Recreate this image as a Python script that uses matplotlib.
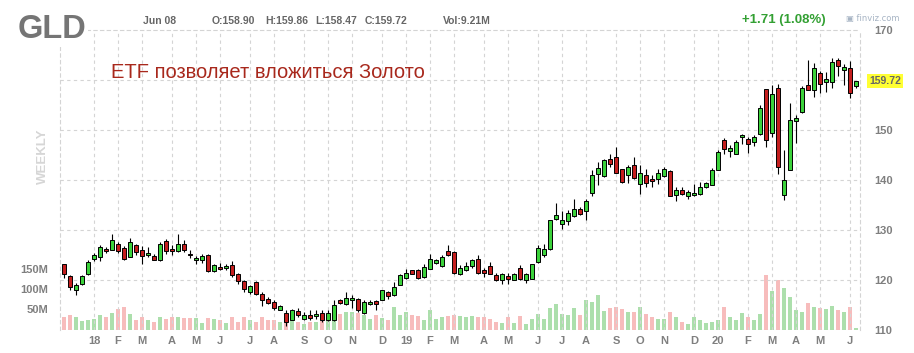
import numpy as np
import pandas as pd
import matplotlib
matplotlib.use("Agg")
import matplotlib.pyplot as plt
import matplotlib.transforms as mtransforms

# ---------------- data ----------------
start_week = "2017-11-27"

opens = [123.2, 120.9, 118.0, 119.2, 121.2, 124.2, 124.7, 126.3, 126.1, 127.3,
         126.5, 124.7, 127.1, 126.1, 125.0, 124.8, 124.1, 127.7, 126.3, 125.9,
         127.3, 125.3, 124.0, 124.1, 125.0, 121.8, 122.6, 122.5, 123.0, 121.2,
         119.8, 117.7, 119.7, 117.3, 116.3, 115.7, 114.1, 113.5, 112.0, 113.9,
         112.3, 113.1, 112.8, 113.5, 112.0, 112.0, 116.0, 115.2, 116.0, 116.2,
         113.5, 115.2, 115.8, 116.1, 117.7, 117.0, 119.1, 120.5, 122.0, 122.0,
         120.7, 122.3, 123.5, 122.8, 125.8, 125.7, 121.2, 122.1, 122.8, 124.3,
         122.1, 122.8, 121.0, 120.1, 120.8, 120.1, 122.5, 120.1, 120.3, 123.7,
         125.0, 126.3, 132.3, 131.2, 131.9, 132.8, 134.3, 133.9, 137.5, 141.2,
         140.8, 144.2, 144.7, 142.1, 141.1, 142.9, 139.3, 140.9, 140.2, 140.3,
         140.8, 141.9, 137.0, 138.1, 136.9, 137.0, 137.2, 138.7, 139.1, 142.1,
         148.1, 145.9, 145.3, 148.7, 148.3, 147.7, 149.2, 158.1, 149.5, 158.3,
         137.1, 142.1, 151.9, 153.7, 159.0, 158.1, 161.5, 159.7, 159.7, 164.0,
         162.1, 162.5, 158.90]

highs = [123.3, 121.0, 119.5, 121.0, 124.0, 125.5, 127.0, 126.7, 129.3, 127.7,
         126.8, 128.5, 127.3, 126.8, 126.7, 125.3, 127.7, 128.3, 127.0, 129.3,
         128.1, 126.0, 124.8, 125.3, 125.2, 123.3, 123.5, 123.3, 123.8, 121.5,
         120.0, 119.1, 119.8, 117.7, 116.7, 116.0, 115.0, 114.0, 114.3, 114.5,
         113.7, 114.1, 114.1, 114.0, 114.0, 116.0, 116.3, 117.7, 117.0, 116.5,
         116.0, 116.0, 116.1, 118.1, 117.9, 119.7, 121.3, 122.3, 122.1, 122.2,
         123.3, 125.3, 124.3, 125.0, 127.1, 125.9, 123.0, 123.7, 124.3, 125.0,
         122.5, 123.7, 121.5, 121.5, 121.5, 121.5, 123.0, 121.5, 123.3, 127.0,
         127.2, 132.0, 135.5, 133.9, 134.0, 136.3, 134.7, 136.3, 142.0, 143.7,
         144.3, 145.3, 146.7, 142.3, 143.0, 144.7, 143.0, 142.3, 141.0, 142.3,
         142.7, 142.1, 138.7, 138.7, 138.0, 139.3, 139.7, 139.7, 142.5, 146.0,
         148.5, 147.0, 148.1, 149.3, 148.7, 149.0, 155.0, 158.3, 159.0, 159.3,
         146.0, 155.5, 153.0, 158.8, 164.1, 163.5, 161.9, 161.7, 164.5, 164.5,
         163.2, 163.9, 159.86]

lows = [120.5, 118.0, 117.1, 119.0, 121.0, 123.9, 123.9, 125.5, 126.1, 125.5,
        124.1, 124.7, 125.1, 123.3, 124.7, 124.0, 123.9, 125.2, 125.0, 125.7,
        125.7, 124.5, 123.3, 123.5, 121.7, 121.7, 122.0, 122.0, 120.7, 119.3,
        117.7, 117.2, 117.1, 114.8, 115.3, 114.1, 114.0, 110.8, 112.0, 112.7,
        112.0, 112.0, 112.3, 111.7, 111.8, 111.9, 115.3, 115.0, 114.5, 113.7,
        113.2, 115.0, 114.1, 116.0, 116.3, 116.8, 119.0, 120.3, 121.2, 120.3,
        120.5, 122.2, 123.3, 122.7, 124.9, 121.3, 121.0, 121.9, 122.5, 121.3,
        120.7, 121.2, 119.9, 119.2, 119.2, 120.0, 120.0, 119.5, 120.3, 123.5,
        124.7, 126.1, 132.0, 130.3, 131.0, 132.7, 133.0, 132.1, 136.8, 139.0,
        140.7, 142.7, 141.4, 139.5, 139.5, 140.3, 137.3, 138.7, 138.7, 139.2,
        140.7, 136.8, 135.9, 137.0, 136.3, 136.8, 137.0, 138.5, 139.0, 142.0,
        145.2, 144.7, 145.2, 147.3, 145.5, 146.8, 149.0, 146.7, 148.7, 141.3,
        136.0, 142.0, 147.5, 153.5, 158.0, 156.7, 157.5, 157.7, 158.5, 160.9,
        159.0, 156.5, 158.47]

closes = [121.2, 118.7, 119.0, 120.8, 123.7, 125.1, 126.7, 125.8, 127.9, 125.9,
          124.3, 127.7, 125.7, 124.9, 125.4, 124.1, 127.3, 125.8, 125.9, 127.2,
          126.0, 125.1, 124.5, 124.8, 121.9, 122.9, 122.2, 122.8, 121.0, 119.9,
          118.3, 118.8, 117.2, 116.0, 115.5, 114.5, 114.7, 111.7, 114.0, 113.0,
          113.1, 112.5, 113.2, 112.1, 113.5, 115.1, 115.5, 116.5, 116.5, 114.0,
          115.7, 115.7, 115.2, 117.9, 116.8, 118.7, 120.9, 121.5, 121.3, 120.5,
          122.7, 124.3, 124.1, 124.7, 125.1, 121.5, 122.5, 122.8, 123.9, 121.5,
          121.5, 121.3, 120.0, 121.2, 120.3, 121.2, 120.3, 121.2, 123.2, 126.5,
          126.3, 131.9, 133.0, 132.0, 133.5, 134.2, 133.3, 135.8, 141.0, 142.4,
          144.0, 143.2, 141.5, 139.7, 142.7, 140.5, 141.5, 139.5, 139.9, 141.5,
          142.3, 136.9, 138.0, 137.3, 137.7, 137.5, 138.7, 139.3, 142.1, 145.5,
          146.3, 146.5, 147.7, 149.0, 147.3, 148.7, 154.3, 148.0, 157.1, 142.7,
          139.9, 152.0, 152.5, 158.3, 158.1, 162.3, 159.3, 160.2, 163.5, 162.8,
          162.5, 157.5, 159.72]

volumes_m = [33, 37, 33, 23, 25, 27, 37, 32, 43, 53,
             58, 40, 25, 33, 25, 21, 33, 27, 33, 33,
             29, 29, 29, 17, 29, 27, 25, 17, 33, 21,
             33, 25, 21, 33, 25, 25, 21, 23, 30, 20,
             15, 21, 21, 23, 23, 37, 40, 46, 46, 43,
             37, 27, 37, 29, 25, 57, 37, 46, 37, 35,
             25, 50, 27, 33, 35, 37, 35, 33, 35, 33,
             32, 27, 21, 17, 33, 17, 35, 15, 27, 40,
             28, 54, 65, 39, 37, 54, 37, 75, 70, 87,
             47, 55, 57, 52, 46, 46, 57, 40, 33, 27,
             28, 45, 32, 21, 15, 32, 25, 18, 20, 25,
             58, 32, 25, 43, 32, 25, 40, 137, 98, 125,
             104, 83, 50, 46, 67, 58, 54, 52, 60, 50,
             44, 57, 5]

price_ticks = [110, 120, 130, 140, 150, 160, 170]
price_tick_labels = ["110", "120", "130", "140", "150", "", "170"]
vol_ticks_m = [50, 100, 150]
vol_tick_labels = ["50M", "100M", "150M"]
last_price = 159.72

header_date = "Jun 08"
header_ohlc = ["O:158.90", "H:159.86", "L:158.47", "C:159.72"]
header_vol = "Vol:9.21M"
change_text = "+1.71 (1.08%)"
ticker = "GLD"
annotation = "ETF позволяет вложиться Золото"

# ---------------- derived ----------------
n = len(closes)
dates = pd.date_range(start_week, periods=n, freq="W-MON")
o = np.array(opens); h = np.array(highs); l = np.array(lows); c = np.array(closes)
v = np.array(volumes_m) * 1e6
idx = np.arange(n)
up = c >= o

month_starts = pd.date_range("2018-01-01", dates[-1], freq="BMS")
tick_pos, tick_lab = [], []
for d in month_starts:
    k = (d - dates[0]).days // 7
    tick_pos.append(k)
    tick_lab.append(d.strftime("%y") if d.month == 1 else d.strftime("%b")[0])

# ---------------- figure ----------------
W, H = 914, 353
fig = plt.figure(figsize=(W / 100, H / 100), dpi=100)
fig.patch.set_facecolor("white")
left_px, right_px, top_px, bot_px = 60, 860, 30, 330
ax = fig.add_axes([left_px / W, 1 - bot_px / H, (right_px - left_px) / W, (bot_px - top_px) / H])
axv = ax.twinx()
ax.set_zorder(axv.get_zorder() + 1)
ax.patch.set_visible(False)

x0 = (left_px - 64) / 6.0
x1 = (right_px - 64) / 6.0
ax.set_xlim(x0, x1)
axv.set_xlim(x0, x1)
ax.set_ylim(110, 170)
axv.set_ylim(0, 750e6)

GRID = "#d4d4d4"
for a in (ax, axv):
    for s in a.spines.values():
        s.set_visible(False)
for side in ("left", "right", "top"):
    ax.spines[side].set_visible(True)
    ax.spines[side].set_color(GRID)
    ax.spines[side].set_linestyle((0, (3, 3)))
    ax.spines[side].set_linewidth(0.8)

# volume
vcol = np.where(up, "#acdfac", "#f7bcbc")
axv.bar(idx, v, width=0.82, color=vcol, linewidth=0, zorder=1)
axv.set_yticks([])

# grid
for p in price_ticks[:-1]:
    ax.axhline(p, color=GRID, lw=0.8, ls=(0, (3, 3)), zorder=0.5)
for k in tick_pos:
    ax.axvline(k, color=GRID, lw=0.8, ls=(0, (3, 3)), zorder=0.5)

# candles
GREEN = "#3bd23b"
RED = "#c41e1e"
ax.vlines(idx, l, h, color="black", lw=0.8, zorder=2)
body_b = np.minimum(o, c)
body_h = np.maximum(np.abs(c - o), 0.12)
ax.bar(idx, body_h, bottom=body_b, width=0.75,
       color=np.where(up, GREEN, RED), edgecolor="black", linewidth=0.7, zorder=3)

# axes ticks
TCOL = "#7f7f7f"
ax.yaxis.tick_right()
ax.set_yticks(price_ticks)
ax.set_yticklabels(price_tick_labels)
ax.tick_params(axis="y", length=0, pad=10, labelsize=8, labelcolor=TCOL)
for t in ax.get_yticklabels():
    t.set_fontweight("bold")
    t.set_fontfamily("Liberation Sans")
ax.set_xticks(tick_pos)
ax.set_xticklabels(tick_lab)
ax.tick_params(axis="x", length=0, pad=4, labelsize=8, labelcolor=TCOL)
for t in ax.get_xticklabels():
    t.set_fontweight("bold")
    t.set_fontfamily("Liberation Sans")

# volume labels left of the plot
tr = mtransforms.blended_transform_factory(axv.transAxes, axv.transData)
for vt, vl in zip(vol_ticks_m, vol_tick_labels):
    axv.text((48 - left_px) / (right_px - left_px), vt * 1e6, vl, transform=tr,
             ha="right", va="center", fontsize=8, fontweight="bold", color=TCOL,
             family="Liberation Sans", clip_on=False)

# last price label
tr2 = mtransforms.blended_transform_factory(ax.transAxes, ax.transData)
ax.text(1 + (869 - right_px) / (right_px - left_px), last_price, f"{last_price:.2f}",
        transform=tr2, ha="left", va="center", fontsize=7.5, fontweight="bold",
        color="#666666", family="Liberation Sans", clip_on=False,
        bbox=dict(boxstyle="square,pad=0.2", fc="#ffff33", ec="none"))

def ftext(x, y, s, **kw):
    fig.text(x / W, 1 - y / H, s, **kw)

ftext(18, 30, ticker, fontsize=23.5, fontweight="bold", color="#757575", va="center",
      ha="left", family="Liberation Sans",
      bbox=dict(boxstyle="square,pad=0.05", fc="white", ec="none"))
ftext(143, 21, header_date, fontsize=7.5, fontweight="bold", color="#666666",
      va="center", family="Liberation Sans")
for xx, s in zip([212, 265, 315, 365], header_ohlc):
    ftext(xx, 21, s, fontsize=7.5, fontweight="bold", color="#666666",
          va="center", family="Liberation Sans")
ftext(443, 21, header_vol, fontsize=7.5, fontweight="bold", color="#666666",
      va="center", family="Liberation Sans")
ftext(742, 20, change_text, fontsize=9.5, fontweight="bold", color="#33a033",
      va="center", family="Liberation Sans")
ftext(846, 19, "▣ finviz.com", fontsize=6, color="#a7b4c4", va="center",
      family="DejaVu Sans")
ftext(111, 72, annotation, fontsize=14.5, color="#a8281c", va="center",
      family="Liberation Sans")
ftext(43, 156, "WEEKLY", fontsize=9.5, fontweight="bold", color="#d6d6d6",
      va="center", ha="center", rotation=90, family="Liberation Sans")

fig.savefig("out.png", dpi=100, facecolor="white")
